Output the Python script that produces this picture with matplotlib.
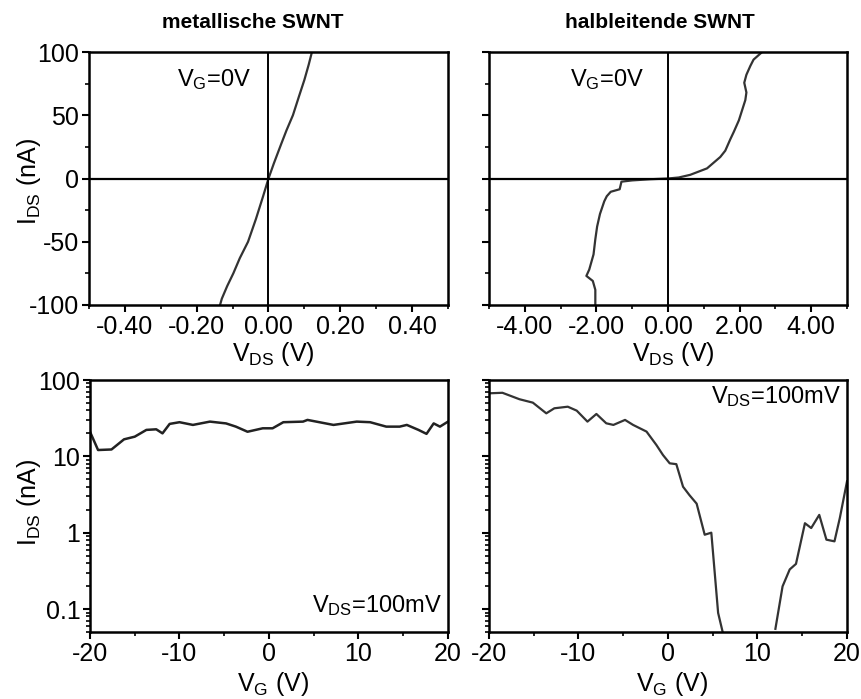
import numpy
import matplotlib
matplotlib.use("Agg")
import matplotlib.pyplot
from matplotlib.ticker import MultipleLocator, FixedLocator, FuncFormatter, LogLocator, NullFormatter

matplotlib.pyplot.rcParams["font.family"] = ["Liberation Sans", "DejaVu Sans"]
matplotlib.pyplot.rcParams["mathtext.default"] = "regular"
matplotlib.pyplot.rcParams["axes.unicode_minus"] = False

# I-V, metallic tube (V_G = 0 V)
vds_metal = [-0.135, -0.13, -0.115, -0.098, -0.08, -0.057, -0.035, -0.015, 0.0,
             0.015, 0.035, 0.05, 0.068, 0.085, 0.1, 0.112, 0.121]
ids_metal = [-100, -95, -85, -75, -63, -50, -32, -14, 0,
             12, 27, 38, 50, 65, 78, 90, 100]

# I-V, semiconducting tube (V_G = 0 V)
vds_semi = [-2.03, -2.03, -2.1, -2.28, -2.2, -2.08, -2.03, -1.98, -1.9, -1.78, -1.71,
            -1.6, -1.35, -1.3, -1.0, -0.5, 0.0, 0.3, 0.62, 1.09, 1.46, 1.6, 1.74, 1.84,
            1.98, 2.07, 2.16, 2.19, 2.13, 2.19, 2.30, 2.39, 2.63]
ids_semi = [-100, -88, -81, -77, -72, -60, -48, -38, -28, -18, -14,
            -10.5, -8.5, -2.5, -1.5, -0.6, 0, 0.8, 2.9, 8, 17, 22, 31, 37,
            46, 54, 62, 68, 75.7, 82, 89, 94, 100]

# I-V_G, metallic tube (V_DS = 100 mV)
vg_metal = [-20, -19.1, -17.6, -16.2, -15.0, -13.7, -12.6, -11.9, -11.1, -10.0, -8.5,
            -6.6, -4.8, -3.7, -2.4, -0.7, 0.4, 1.6, 3.8, 4.3, 7.2, 9.8, 11.3,
            13.1, 14.6, 15.4, 16.7, 17.6, 18.4, 19.1, 20]
ig_metal = [21, 12.1, 12.3, 16.7, 18.1, 22.2, 22.6, 20, 26.6, 28, 25.8,
            28.5, 27, 24.5, 21, 23.3, 23.3, 28, 28.5, 30, 25.8, 28.5, 28,
            24.5, 24.5, 25.8, 22.2, 19.7, 27, 24.5, 28.5]

# I-V_G, semiconducting tube (V_DS = 100 mV), two branches around the gap
vg_semi_p = [-19.9, -18.5, -16.6, -15.1, -13.6, -12.7, -11.2, -10.2, -9.0, -8.0, -6.9,
             -6.1, -4.8, -3.9, -2.4, -1.3, -0.56, 0.19, 0.93, 1.68, 2.4, 3.2,
             4.1, 4.84, 5.6, 6.2]
ig_semi_p = [67, 68, 56, 50.5, 36.6, 42.6, 44.7, 39.7, 28.5, 35.9, 27.1,
             25.8, 30, 25.8, 21.1, 14.1, 10.4, 8.1, 7.9, 4.0, 3.1, 2.4,
             0.94, 1.0, 0.089, 0.045]
vg_semi_n = [12.0, 12.8, 13.6, 14.3, 15.3, 16.0, 16.9, 17.7, 18.6, 19.2, 20]
ig_semi_n = [0.055, 0.198, 0.33, 0.39, 1.33, 1.15, 1.71, 0.81, 0.77, 1.56, 4.7]

W, H = 862, 699
LINE = "#333333"
TICK_FS = 18


def px_axes(fig, x0, y0, x1, y1):
    return fig.add_axes([x0 / W, 1 - y1 / H, (x1 - x0) / W, (y1 - y0) / H])


def style(ax):
    for s in ax.spines.values():
        s.set_linewidth(1.8)
    ax.tick_params(which="major", direction="out", length=5, width=1.5,
                   labelsize=TICK_FS, pad=2)
    ax.tick_params(which="minor", direction="out", length=3, width=1.2)
    ax.tick_params(top=False, right=False, which="both")


fig = matplotlib.pyplot.figure(figsize=(W / 100, H / 100), dpi=100)

# top left
ax = px_axes(fig, 89, 52, 448, 305)
ax.plot(vds_metal, ids_metal, color=LINE, lw=1.6)
ax.axhline(0, color="black", lw=1.6)
ax.axvline(0, color="black", lw=1.4)
ax.set_xlim(-0.5, 0.5)
ax.set_ylim(-100, 100)
ax.xaxis.set_major_locator(FixedLocator([-0.4, -0.2, 0.0, 0.2, 0.4]))
ax.xaxis.set_minor_locator(MultipleLocator(0.1))
ax.xaxis.set_major_formatter(FuncFormatter(lambda v, p: f"{v:.2f}"))
ax.yaxis.set_major_locator(MultipleLocator(50))
ax.yaxis.set_minor_locator(MultipleLocator(25))
style(ax)
ax.text(-0.255, 78, r"$V_G$=0V", fontsize=17, va="center", ha="left")

# top right
ax = px_axes(fig, 489, 52, 847, 305)
ax.plot(vds_semi, ids_semi, color=LINE, lw=1.6)
ax.axhline(0, color="black", lw=1.6)
ax.axvline(0, color="black", lw=1.4)
ax.set_xlim(-5, 5)
ax.set_ylim(-100, 100)
ax.xaxis.set_major_locator(FixedLocator([-4, -2, 0, 2, 4]))
ax.xaxis.set_minor_locator(MultipleLocator(1))
ax.xaxis.set_major_formatter(FuncFormatter(lambda v, p: f"{v:.2f}"))
ax.yaxis.set_major_locator(MultipleLocator(50))
ax.yaxis.set_minor_locator(MultipleLocator(25))
style(ax)
ax.tick_params(labelleft=False)
ax.text(-2.75, 78, r"$V_G$=0V", fontsize=17, va="center", ha="left")


def log_axes(ax):
    ax.set_yscale("log")
    ax.set_xlim(-20, 20)
    ax.set_ylim(0.05, 100)
    ax.xaxis.set_major_locator(MultipleLocator(10))
    ax.xaxis.set_minor_locator(MultipleLocator(5))
    ax.yaxis.set_major_locator(FixedLocator([0.1, 1, 10, 100]))
    ax.yaxis.set_minor_locator(LogLocator(base=10, subs=numpy.arange(2, 10)))
    ax.yaxis.set_minor_formatter(NullFormatter())
    ax.yaxis.set_major_formatter(FuncFormatter(lambda v, p: f"{v:g}"))
    style(ax)


# bottom left
ax = px_axes(fig, 90, 380, 448, 632)
ax.plot(vg_metal, ig_metal, color="#222222", lw=1.8)
log_axes(ax)
ax.text(19.3, 0.11, r"$V_{DS}$=100mV", fontsize=17, va="center", ha="right")

# bottom right
ax = px_axes(fig, 489, 380, 847, 632)
ax.plot(vg_semi_p, ig_semi_p, color=LINE, lw=1.6)
ax.plot(vg_semi_n, ig_semi_n, color=LINE, lw=1.6)
log_axes(ax)
ax.tick_params(labelleft=False)
ax.text(19.3, 60, r"$V_{DS}$=100mV", fontsize=17, va="center", ha="right")

# titles and axis labels in pixel positions
fig.text(253 / W, 1 - 22 / H, "metallische SWNT", fontsize=15, fontweight="bold",
         ha="center", va="center")
fig.text(660 / W, 1 - 22 / H, "halbleitende SWNT", fontsize=15, fontweight="bold",
         ha="center", va="center")
for xc, yc, s in [(273, 354, r"$V_{DS}$ (V)"), (673, 354, r"$V_{DS}$ (V)"),
                  (273, 684, r"$V_G$ (V)"), (672, 684, r"$V_G$ (V)")]:
    fig.text(xc / W, 1 - yc / H, s, fontsize=18, ha="center", va="center")
for yc in [182, 503]:
    fig.text(29 / W, 1 - yc / H, r"$I_{DS}$ (nA)", fontsize=18, ha="center",
             va="center", rotation=90)

fig.savefig("out.png", dpi=100)
